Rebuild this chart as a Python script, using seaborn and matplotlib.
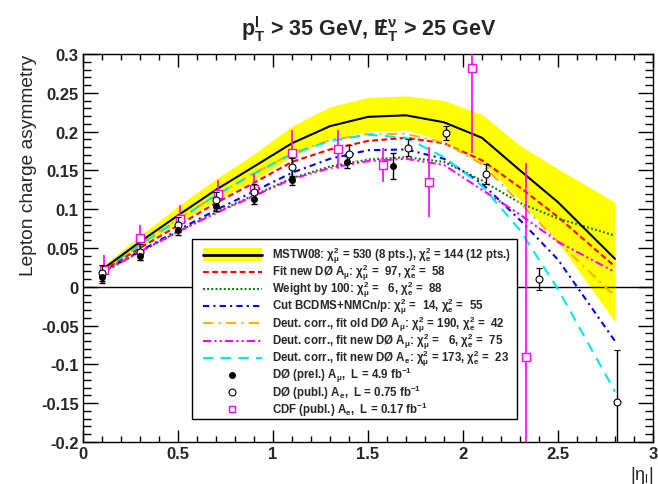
import numpy as np
import pandas as pd
import matplotlib
matplotlib.use("Agg")
import matplotlib.pyplot as plt
from matplotlib.ticker import MultipleLocator, FuncFormatter
from matplotlib.lines import Line2D
from matplotlib.patches import Rectangle
import seaborn as sns

#####################################################################
# Model curves
eta_grid = [0.1, 0.3, 0.5, 0.7, 0.9, 1.1, 1.3, 1.5, 1.7, 1.9, 2.1, 2.3, 2.5, 2.8]
mstw = [0.022, 0.058, 0.092, 0.125, 0.155, 0.185, 0.207, 0.219, 0.221, 0.212, 0.192, 0.150, 0.109, 0.036]
band_hi = [0.026, 0.066, 0.104, 0.139, 0.171, 0.207, 0.232, 0.244, 0.246, 0.240, 0.222, 0.182, 0.152, 0.109]
band_lo = [0.018, 0.050, 0.082, 0.111, 0.137, 0.168, 0.191, 0.200, 0.202, 0.188, 0.160, 0.112, 0.058, -0.045]
fit_new_mu = [0.020, 0.050, 0.079, 0.108, 0.134, 0.161, 0.177, 0.188, 0.192, 0.185, 0.163, 0.128, 0.090, 0.026]
weight100 = [0.018, 0.045, 0.071, 0.096, 0.118, 0.140, 0.155, 0.164, 0.167, 0.161, 0.137, 0.108, 0.088, 0.066]
cut_bcdms = [0.019, 0.046, 0.073, 0.099, 0.123, 0.147, 0.165, 0.176, 0.177, 0.165, 0.133, 0.086, 0.035, -0.070]
deut_old_mu = [0.021, 0.055, 0.087, 0.118, 0.146, 0.172, 0.189, 0.197, 0.197, 0.186, 0.158, 0.108, 0.058, -0.012]
deut_new_mu = [0.018, 0.045, 0.071, 0.095, 0.117, 0.139, 0.153, 0.162, 0.165, 0.157, 0.125, 0.093, 0.058, 0.019]
deut_new_e = [0.021, 0.054, 0.086, 0.118, 0.146, 0.171, 0.188, 0.196, 0.192, 0.167, 0.130, 0.073, -0.003, -0.135]

# Data points
d0mu_eta = [0.1, 0.3, 0.5, 0.7, 0.9, 1.1, 1.39, 1.63]
d0mu_a = [0.013, 0.040, 0.073, 0.104, 0.113, 0.137, 0.161, 0.156]
d0mu_err = [0.008, 0.006, 0.006, 0.006, 0.006, 0.006, 0.008, 0.017]

d0e_eta = [0.1, 0.3, 0.5, 0.7, 0.9, 1.1, 1.4, 1.71, 1.91, 2.12, 2.4, 2.81]
d0e_a = [0.018, 0.045, 0.080, 0.112, 0.122, 0.154, 0.171, 0.179, 0.198, 0.145, 0.010, -0.149]
d0e_err = [0.010, 0.010, 0.010, 0.010, 0.010, 0.012, 0.012, 0.011, 0.009, 0.013, 0.014, 0.068]

cdf_eta = [0.11, 0.30, 0.51, 0.71, 0.90, 1.10, 1.34, 1.58, 1.82, 2.05, 2.33]
cdf_a = [0.022, 0.063, 0.088, 0.119, 0.126, 0.172, 0.177, 0.157, 0.135, 0.282, -0.090]
cdf_err = [0.019, 0.016, 0.017, 0.018, 0.020, 0.030, 0.025, 0.022, 0.045, 0.110, 0.250]

labels = [
    r"MSTW08: $\chi^2_\mu$ = 530 (8 pts.), $\chi^2_e$ = 144 (12 pts.)",
    r"Fit new DØ A$_\mu$: $\chi^2_\mu$ =  97, $\chi^2_e$ =  58",
    r"Weight by 100: $\chi^2_\mu$ =   6, $\chi^2_e$ =  88",
    r"Cut BCDMS+NMCn/p: $\chi^2_\mu$ =  14, $\chi^2_e$ =  55",
    r"Deut. corr., fit old DØ A$_\mu$: $\chi^2_\mu$ = 190, $\chi^2_e$ =  42",
    r"Deut. corr., fit new DØ A$_\mu$: $\chi^2_\mu$ =   6, $\chi^2_e$ =  75",
    r"Deut. corr., fit new DØ A$_e$: $\chi^2_\mu$ = 173, $\chi^2_e$ =  23",
    r"DØ (prel.) A$_\mu$,  L = 4.9 fb$^{-1}$",
    r"DØ (publ.) A$_e$,  L = 0.75 fb$^{-1}$",
    r"CDF (publ.) A$_e$,  L = 0.17 fb$^{-1}$",
]

#####################################################################
curves = {
    'mstw': mstw, 'fit_new_mu': fit_new_mu, 'weight100': weight100,
    'cut_bcdms': cut_bcdms, 'deut_old_mu': deut_old_mu,
    'deut_new_mu': deut_new_mu, 'deut_new_e': deut_new_e,
}
colors = {
    'mstw': 'black', 'fit_new_mu': '#ff0000', 'weight100': '#007f00',
    'cut_bcdms': '#0000ff', 'deut_old_mu': '#ffb000',
    'deut_new_mu': '#ff00ff', 'deut_new_e': '#00e8e8',
}
dashes = {
    'mstw': '', 'fit_new_mu': (2.8, 1.6), 'weight100': (0.9, 1.1),
    'cut_bcdms': (3, 2, 1, 2), 'deut_old_mu': (5, 2.5, 1, 2.5),
    'deut_new_mu': (4, 1.5, 1, 1.5, 1, 1.5), 'deut_new_e': (5, 3.5),
}
df = pd.DataFrame({
    'eta': np.concatenate([eta_grid] * len(curves)),
    'A': np.concatenate([curves[k] for k in curves]),
    'model': np.repeat(list(curves.keys()), len(eta_grid)),
})

sns.set_style("ticks")
plt.rcParams['font.family'] = ['Liberation Sans', 'DejaVu Sans']
plt.rcParams['mathtext.fontset'] = 'custom'
plt.rcParams['mathtext.rm'] = 'Liberation Sans:bold'
plt.rcParams['mathtext.it'] = 'Liberation Sans:bold'
plt.rcParams['mathtext.bf'] = 'Liberation Sans:bold'
plt.rcParams['mathtext.default'] = 'regular'

fig = plt.figure(figsize=(6.58, 4.85), dpi=100)
ax = fig.add_axes([83 / 658, 42 / 485, 570 / 658, 388 / 485])

ax.fill_between(eta_grid, band_lo, band_hi, color='#ffff00', lw=0, zorder=1)
ax.axhline(0, color='black', lw=1.0, zorder=1.5)

others = df[df['model'] != 'mstw']
sns.lineplot(data=others, x='eta', y='A', hue='model', style='model',
             palette=colors, dashes=dashes, lw=1.5, legend=False, ax=ax,
             zorder=2, sort=False)
sns.lineplot(data=df[df['model'] == 'mstw'], x='eta', y='A', color='black',
             lw=1.5, legend=False, ax=ax, zorder=2.5, sort=False)

ax.errorbar(cdf_eta, cdf_a, yerr=cdf_err, fmt='s', color='#ff00ff', mfc='white',
            mec='#ff00ff', ms=6, mew=1, elinewidth=1.2, capsize=0, zorder=4)
ax.errorbar(d0e_eta, d0e_a, yerr=d0e_err, fmt='o', color='black', mfc='white',
            mec='black', ms=5, mew=0.8, elinewidth=1, capsize=2.5, capthick=1, zorder=5)
ax.errorbar(d0mu_eta, d0mu_a, yerr=d0mu_err, fmt='o', color='black',
            ms=4, elinewidth=1, capsize=2.5, capthick=1, zorder=5)

ax.set_xlim(0, 3)
ax.set_ylim(-0.2, 0.3)
ax.xaxis.set_major_locator(MultipleLocator(0.5))
ax.xaxis.set_minor_locator(MultipleLocator(0.1))
ax.yaxis.set_major_locator(MultipleLocator(0.05))
ax.yaxis.set_minor_locator(MultipleLocator(0.01))
fmt = FuncFormatter(lambda v, p: ("%g" % round(v, 3)) if abs(v) > 1e-9 else '0')
ax.xaxis.set_major_formatter(fmt)
ax.yaxis.set_major_formatter(fmt)
ax.tick_params(axis='both', which='both', direction='in', top=True, right=True,
               labelsize=12, width=1, color='black', pad=3)
ax.tick_params(axis='x', which='major', length=9)
ax.tick_params(axis='x', which='minor', length=4.5)
ax.tick_params(axis='y', which='major', length=11)
ax.tick_params(axis='y', which='minor', length=5.5)
for lab in ax.get_xticklabels() + ax.get_yticklabels():
    lab.set_fontweight('bold')
for s in ax.spines.values():
    s.set_linewidth(1)
    s.set_color('black')

ax.set_xlabel(r"$|\eta_l|$", loc='right', fontsize=13, labelpad=2)
ax.set_ylabel("Lepton charge asymmetry", loc='top', fontsize=13.8, labelpad=3)
fig.text(0.56, 0.94, r"$p_T^l$ > 35 GeV, ${E\!\!\!/\,}_T^\nu$ > 25 GeV", ha='center',
         va='center', fontsize=15.5, fontweight='bold')

#####################################################################
# Legend box drawn by hand (pixel layout of the reference)
def to_ax(px, py):
    return (px - 83) / 570, (443 - py) / 388

x0, y0 = to_ax(192, 420)
x1, y1 = to_ax(517, 240)
ax.add_patch(Rectangle((x0, y0), x1 - x0, y1 - y0, transform=ax.transAxes,
                       facecolor='white', edgecolor='black', lw=1, zorder=10,
                       clip_on=False))
hx0, _ = to_ax(203, 0)
hx1, _ = to_ax(262, 0)
hxm, _ = to_ax(232, 0)
tx, _ = to_ax(272, 0)
line_keys = ['fit_new_mu', 'weight100', 'cut_bcdms', 'deut_old_mu', 'deut_new_mu', 'deut_new_e']
for i, lab in enumerate(labels):
    _, ry = to_ax(0, 255.5 + i * 17.2)
    if i == 0:
        _, bh = to_ax(0, 443 - 13)
        ax.add_patch(Rectangle((hx0, ry - bh / 2), hx1 - hx0, bh, transform=ax.transAxes,
                               facecolor='#ffff00', lw=0, zorder=11))
        ax.add_line(Line2D([hx0, hx1], [ry, ry], transform=ax.transAxes, color='black',
                           lw=2, zorder=12))
    elif i <= 6:
        k = line_keys[i - 1]
        ax.add_line(Line2D([hx0, hx1], [ry, ry], transform=ax.transAxes, color=colors[k],
                           lw=1.5, dashes=dashes[k], zorder=12))
    elif i == 7:
        ax.add_line(Line2D([hxm], [ry], transform=ax.transAxes, ls='none', marker='o',
                           color='black', ms=4, zorder=12))
    elif i == 8:
        ax.add_line(Line2D([hxm], [ry], transform=ax.transAxes, ls='none', marker='o',
                           mfc='white', mec='black', ms=5, mew=0.8, zorder=12))
    else:
        ax.add_line(Line2D([hxm], [ry], transform=ax.transAxes, ls='none', marker='s',
                           mfc='white', mec='#ff00ff', ms=5, mew=1, zorder=12))
    ax.text(tx, ry, lab, transform=ax.transAxes, ha='left', va='center',
            fontsize=8.3, fontweight='bold', zorder=13)

fig.savefig('out.png', dpi=100, facecolor='white')
